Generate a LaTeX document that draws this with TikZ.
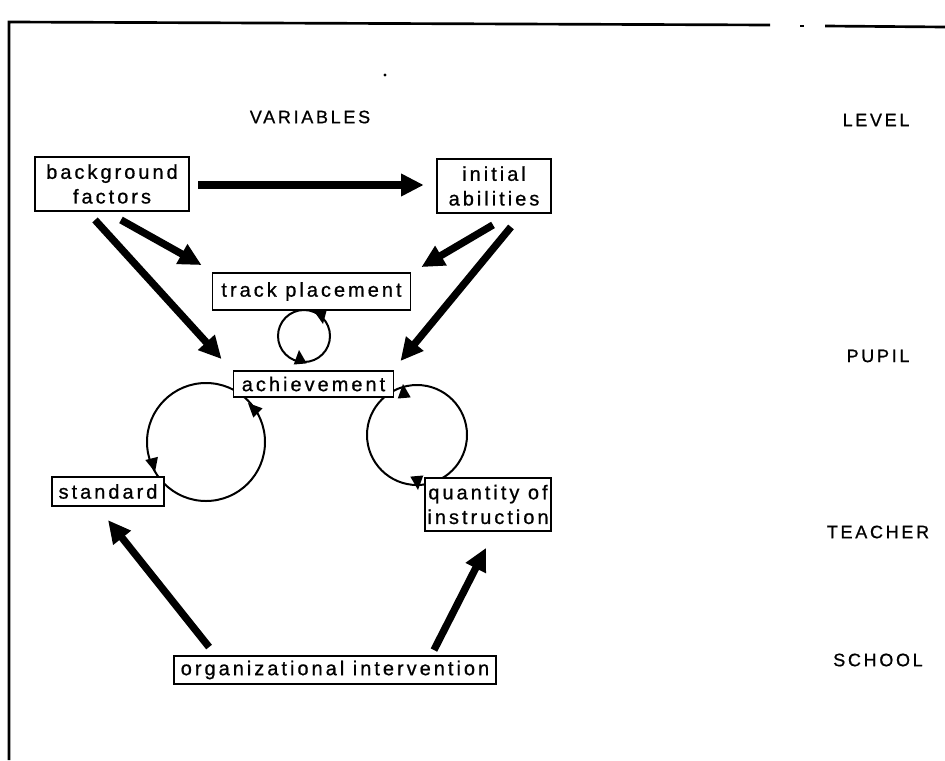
\documentclass[tikz,border=0pt]{standalone}
\usepackage{fontspec}
\setmainfont{Liberation Sans}[LetterSpace=15,FakeBold=0.8]
\usetikzlibrary{arrows.meta,calc}
\newcommand\loophead[2]{\fill[shift={#1},rotate=#2] (0,0) -- (-14,-6.5) -- (-14,6.5) -- cycle;}
\begin{document}
\begin{tikzpicture}[x=0.75pt,y=-0.75pt,
  box/.style={draw,line width=1.4pt,fill=white,inner sep=0pt,align=center,font=\fontsize{15}{18.5}\selectfont},
  lvl/.style={font=\fontsize{13.5}{16}\selectfont},
  bigarrow/.style={line width=5.5pt,-{Triangle[length=17pt,width=16pt]}},
  ring/.style={line width=1.5pt},
  frame/.style={line width=2pt}]
\useasboundingbox (0,0) rectangle (945,760);
% frame
\draw[frame] (9,760) -- (9,22) -- (770,25);
\draw[frame] (800,26) -- (804,26);
\draw[frame] (825,26) -- (945,27);
\fill (385,75) circle (1.6);
% headings
\node[lvl] (var) at (310,117) {VARIABLES};
\node[lvl] (lev) at (876,120) {LEVEL};
\node[lvl] (pup) at (878,356) {PUPIL};
\node[lvl] (tea) at (878,532) {TEACHER};
\node[lvl] (sch) at (878,660) {SCHOOL};
% loops (behind boxes)
\coordinate (sc) at (304,336);
\coordinate (lc) at (206,442);
\coordinate (rc) at (417,435);
\draw[ring] (sc) circle[radius=26];
\draw[ring] (lc) circle[radius=59];
\draw[ring] (rc) circle[radius=50];
% boxes
\node[box,minimum width=116pt,minimum height=40.5pt] (bg) at (112,184) {background\\factors};
\node[box,minimum width=86pt,minimum height=40.5pt] (ini) at (494,186) {initial\\abilities};
\node[box,minimum width=148.5pt,minimum height=27.75pt] (trk) at (311.5,291.5) {track placement};
\node[box,minimum width=120pt,minimum height=19.5pt] (ach) at (313.5,384) {achievement};
\node[box,minimum width=84pt,minimum height=22pt] (std) at (108,491.5) {standard};
\node[box,minimum width=94.5pt,minimum height=39.75pt] (qty) at (488,504.5) {quantity of\\instruction};
\node[box,minimum width=241.5pt,minimum height=21pt] (org) at (335,670) {organizational intervention};
% thick arrows
\draw[bigarrow] ($(bg.east)+(8,1)$) -- ($(ini.west)+(-12,-1)$);
\draw[bigarrow] ($(bg.south)+(9,8)$) -- ($(trk.north west)+(-10,-7)$);
\draw[bigarrow] ($(bg.south)+(-17,8)$) -- ($(ach.north west)+(-11,-11)$);
\draw[bigarrow] ($(ini.south)+(-1,11)$) -- ($(trk.north east)+(10,-5)$);
\draw[bigarrow] ($(ini.south)+(17,13)$) -- ($(ach.north east)+(6,-9)$);
\draw[bigarrow] ($(org.north west)+(36,-8)$) -- ($(std.south)+(0,13)$);
\draw[bigarrow] ($(org.north east)+(-63,-5)$) -- ($(qty.south)+(-2,16)$);
% loop arrowheads
\loophead{(323,324)}{-80}
\loophead{(299,350)}{95}
\loophead{(248,403)}{135}
\loophead{(155,472)}{-76}
\loophead{(403,384)}{95}
\loophead{(418,490)}{-85}
\end{tikzpicture}
\end{document}
